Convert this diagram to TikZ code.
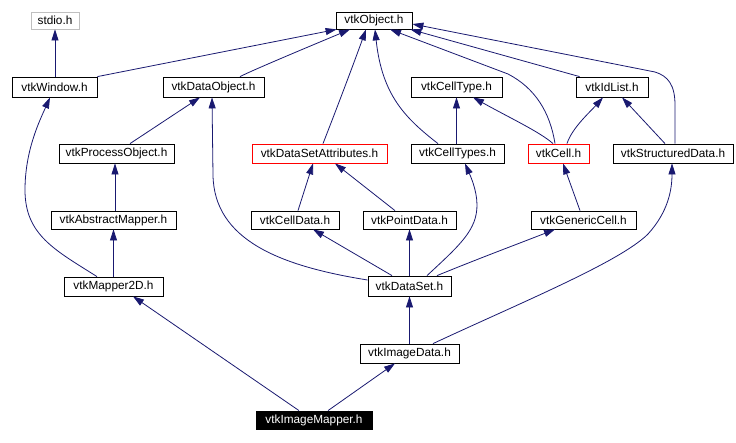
\documentclass[tikz,border=0pt]{standalone}
\usepackage{fontspec}
\setmainfont{Liberation Sans}
\usetikzlibrary{arrows.meta}
\definecolor{edgeblue}{HTML}{191970}
\definecolor{lightgray}{HTML}{BFBFBF}
\tikzset{
  box/.style={draw=black, line width=0.8pt, inner sep=0pt, minimum height=19pt,
    font=\fontsize{11.8}{13}\selectfont},
  redbox/.style={box, draw=red},
  graybox/.style={box, draw=lightgray},
  blackbox/.style={box, fill=black, text=white},
  edge/.style={draw=edgeblue, line width=0.8pt, -{Triangle[length=11pt,width=7pt]}},
}
\begin{document}
\begin{tikzpicture}[x=1pt,y=-1pt]
\useasboundingbox (0,0) rectangle (736,442);
% nodes
\node[graybox, minimum width=48pt, minimum height=17pt] (stdio) at (55,20.5) {stdio.h};
\node[box, minimum width=76pt, minimum height=17pt] (obj) at (374,20.5) {vtkObject.h};
\node[box, minimum width=85pt, minimum height=20pt] (win) at (54.5,87) {vtkWindow.h};
\node[box, minimum width=101pt, minimum height=20pt] (dobj) at (213.5,87) {vtkDataObject.h};
\node[box, minimum width=91pt, minimum height=20pt] (ctype) at (456.5,87) {vtkCellType.h};
\node[box, minimum width=72pt, minimum height=20pt] (idl) at (612,87) {vtkIdList.h};
\node[box, minimum width=115pt] (pobj) at (116.5,153.5) {vtkProcessObject.h};
\node[redbox, minimum width=135pt] (dsa) at (319.5,153.5) {vtkDataSetAttributes.h};
\node[box, minimum width=93pt] (ctypes) at (457.5,153.5) {vtkCellTypes.h};
\node[redbox, minimum width=61pt] (cell) at (558.5,153.5) {vtkCell.h};
\node[box, minimum width=120pt] (sdata) at (673,153.5) {vtkStructuredData.h};
\node[box, minimum width=125pt, minimum height=18pt] (amap) at (113.5,220) {vtkAbstractMapper.h};
\node[box, minimum width=88pt, minimum height=18pt] (cdata) at (295,220) {vtkCellData.h};
\node[box, minimum width=93pt, minimum height=18pt] (pdata) at (409.5,220) {vtkPointData.h};
\node[box, minimum width=105pt, minimum height=18pt] (gcell) at (583.5,220) {vtkGenericCell.h};
\node[box, minimum width=99pt] (m2d) at (113.5,286.5) {vtkMapper2D.h};
\node[box, minimum width=83pt, minimum height=20pt] (dset) at (409.5,286) {vtkDataSet.h};
\node[box, minimum width=99pt] (idata) at (409.5,353.5) {vtkImageData.h};
\node[blackbox, minimum width=116pt, minimum height=18pt] (imap) at (314,420) {vtkImageMapper.h};
% edges (child -> parent)
\draw[edge] (stdio.south |- win.north) -- (stdio.south);
\draw[edge] (win.north east) -- ([xshift=1pt]obj.south west);
\draw[edge] ([xshift=26.5pt]dobj.north) .. controls (255,69) and (320,42) .. ([xshift=-24pt]obj.south);
\draw[edge] ([xshift=3.5pt]dsa.north) .. controls (340,100) and (355,60) .. ([xshift=-8pt]obj.south);
\draw[edge] ([xshift=-19.5pt]ctypes.north) .. controls (405,118) and (382,95) .. ([xshift=1pt]obj.south);
\draw[edge] ([xshift=-3.5pt]cell.north) .. controls (550,112) and (535,88) .. (508,74) -- ([xshift=16pt]obj.south);
\draw[edge] ([xshift=4pt]idl.north west) -- ([xshift=-2pt]obj.south east);
\draw[edge] ([xshift=2pt]sdata.north) -- (675,105) .. controls (675,85) and (668,76) .. (655,72) -- ([yshift=-3.5pt]obj.east);
\draw[edge] (ctype.south |- ctypes.north) -- (ctype.south);
\draw[edge] ([xshift=-5.5pt]cell.north) .. controls (540,132) and (510,118) .. ([xshift=16.5pt]ctype.south);
\draw[edge] ([xshift=8.5pt]cell.north) .. controls (572,128) and (590,112) .. ([xshift=-9pt]idl.south);
\draw[edge] ([xshift=-8pt]sdata.north) -- ([xshift=10pt]idl.south);
\draw[edge] ([xshift=13.5pt]pobj.north) -- ([xshift=-13.5pt]dobj.south);
\draw[edge] ([yshift=6pt]dset.west) .. controls (280,266) and (214,240) .. (213,175) -- ([xshift=-1.5pt]dobj.south);
\draw[edge] ([xshift=-16.5pt]m2d.north) .. controls (55,250) and (25,235) .. (25,190) .. controls (25,150) and (40,120) .. ([xshift=-4.5pt]win.south);
\draw[edge] ([xshift=1.5pt]amap.north) -- ([xshift=-1.5pt]pobj.south);
\draw[edge] (m2d.north) -- (amap.south);
\draw[edge] ([xshift=3pt]cdata.north) -- ([xshift=-6.5pt]dsa.south);
\draw[edge] ([xshift=-14.5pt]pdata.north) -- ([xshift=15.5pt]dsa.south);
\draw[edge] ([xshift=-17.5pt]dset.north) -- ([xshift=18pt]cdata.south);
\draw[edge] (dset.north) -- (pdata.south);
\draw[edge] ([xshift=17.5pt]dset.north) .. controls (460,245) and (477,230) .. (477,205) .. controls (477,190) and (470,175) .. ([xshift=7.5pt]ctypes.south);
\draw[edge] ([xshift=27.5pt]dset.north) .. controls (480,258) and (515,245) .. ([xshift=-28.5pt]gcell.south);
\draw[edge] ([xshift=-3.5pt]gcell.north) -- ([xshift=4.5pt]cell.south);
\draw[edge] (idata.north) -- (dset.south);
\draw[edge] ([xshift=23.5pt]idata.north) .. controls (520,303) and (620,262) .. (648,234) .. controls (668,212) and (672,190) .. ([xshift=-1pt]sdata.south);
\draw[edge] ([xshift=14pt]imap.north) -- ([xshift=-14.5pt]idata.south);
\draw[edge] ([xshift=-15pt]imap.north) -- ([xshift=19.5pt]m2d.south);
\end{tikzpicture}
\end{document}
